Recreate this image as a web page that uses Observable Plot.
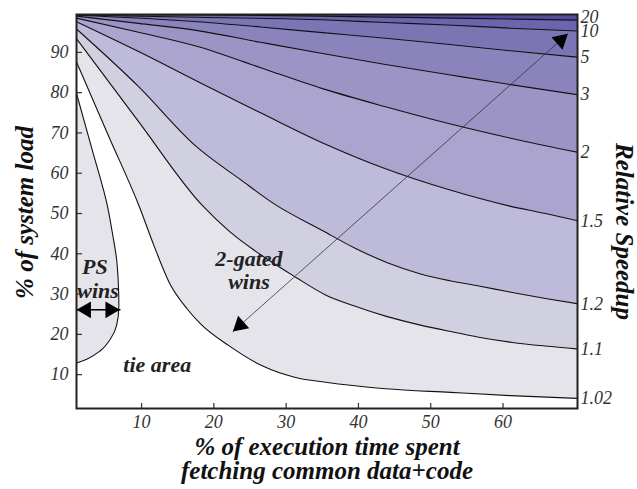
<!DOCTYPE html>
<html><head><meta charset="utf-8">
<script src="https://cdn.jsdelivr.net/npm/d3@7"></script>
<script src="https://cdn.jsdelivr.net/npm/@observablehq/plot@0.6"></script>
<style>
body{margin:0;background:#fff;}
#chart{width:637px;height:489px;}
</style></head><body><div id="chart"></div>
<script>
// ---- data ----
const levels = ["1.02","1.1","1.2","1.5","2","3","5","10","20"];
const bandColors = ["#e5e4eb","#d1d0e1","#bebad9","#aba4ce","#9b94c4","#8b84bc","#7c75b4","#6c65ad","#524ca2"];
const c1_02 = [[1,87.6],[5.57,68.7],[9.63,52.0],[11.7,42.1],[13.82,32.9],[16.32,26.3],[18.16,22.6],[22.07,17.2],[26.69,12.2],[31.3,9.3],[35.45,8.1],[43.75,6.5],[52.74,5.6],[61.04,4.8],[70.3,4.1]];
const c1_1 = [[1,93.4],[9.59,72.8],[18.4,52.0],[22.07,45.7],[26.69,39.5],[31.3,34.2],[35.45,29.8],[39.36,27.1],[43.98,24.4],[48.59,22.3],[52.74,20.7],[56.65,19.3],[61.27,18.0],[65.88,17.1],[70.3,16.4]];
const c1_2 = [[1,95.8],[9.59,81.5],[17.47,66.8],[23.69,58.4],[28.5,52.2],[35.0,45.8],[39.4,41.5],[44.0,37.8],[48.6,35.0],[52.7,33.3],[56.65,32.0],[61.27,30.4],[65.88,28.9],[70.3,27.6]];
const c1_5 = [[1,97.6],[9.59,90.2],[18.16,82.4],[26.46,75.0],[35.45,67.2],[43.75,61.1],[52.33,56.0],[60.8,51.9],[65.88,50.0],[70.3,48.2]];
const c2 = [[1,98.5],[9.59,95.0],[17.88,91.4],[26.46,86.2],[35.03,81.0],[43.75,76.5],[52.33,72.4],[61.04,68.7],[70.3,65.2]];
const c3 = [[1,99.0],[9.59,97.2],[17.75,95.4],[26.46,92.5],[35.03,89.7],[43.75,87.0],[52.33,84.5],[61.04,82.0],[70.3,79.5]];
const c5 = [[1,99.2],[17.75,97.6],[26.46,96.3],[35.03,94.9],[43.75,93.5],[52.33,92.0],[61.04,90.4],[70.3,88.8]];
const c10 = [[1,99.3],[17.75,98.7],[35.03,98.1],[43.75,97.4],[52.33,96.8],[61.04,96.0],[70.3,95.3]];
const c20 = [[1,99.37],[18.2,99.3],[35.03,99.0],[52.74,98.5],[70.3,98.0]];
const contours = [c1_02,c1_1,c1_2,c1_5,c2,c3,c5,c10,c20];
// PS-wins boundary (x as function of y)
const psCurve = [[1,12.9],[2.49,13.9],[4.33,16.0],[5.71,18.9],[6.54,22.2],[6.86,27.1],[6.78,32.9],[6.54,38.7],[5.95,45.3],[5.26,52.0],[3.2,65.6],[1,79.8]];
const xTicks = [10,20,30,40,50,60];
const yTicks = [10,20,30,40,50,60,70,80,90];
const annotations = [
  {text:"PS", x:3.53, y:36.7},
  {text:"wins", x:3.98, y:30.9},
  {text:"2-gated", x:24.85, y:38.6},
  {text:"wins", x:24.85, y:33.0},
  {text:"tie area", x:12.17, y:12.3}
];
const arrowDiag = [[22.63,20.7],[68.96,94.6]];
const arrowPS = [[1,26.1],[7.0,26.1]];
const xTitle = ["% of execution time spent","fetching common data+code"];
const yTitle = "% of system load";
const rTitle = "Relative Speedup";

// ---- layout ----
const W = 637, H = 489, mL = 76, mR = 60, mT = 14, mB = 81;
const xMin = 1, xMax = 70.3, yMin = 1.6, yMax = 99.4;
const plotW = W - mL - mR, plotH = H - mT - mB;
const kx = plotW / (xMax - xMin), ky = plotH / (yMax - yMin);

function head(tip, from) {
  const vx = (tip[0] - from[0]) * kx, vy = -(tip[1] - from[1]) * ky;
  const L = Math.hypot(vx, vy), ux = vx / L, uy = vy / L;
  const r = 6.2, d = 2 * Math.sqrt(Math.PI * r * r / (3 * Math.sqrt(3)));
  return Plot.dot([tip], {x: p => p[0], y: p => p[1], symbol: "triangle", r,
    fill: "#000", stroke: "none", rotate: Math.atan2(ux, -uy) * 180 / Math.PI,
    dx: -ux * d, dy: -uy * d});
}

const bold = {fontWeight: "bold", fontStyle: "italic", fill: "#111"};
const marks = [];
contours.forEach((c, i) => {
  marks.push(Plot.areaY(c, {x: p => p[0], y1: p => p[1], y2: () => yMax, fill: bandColors[i], curve: "monotone-x", clip: true}));
});
marks.push(Plot.areaX(psCurve, {y: p => p[1], x1: () => xMin, x2: p => p[0], fill: bandColors[0], curve: "monotone-y", clip: true}));
contours.forEach(c => {
  marks.push(Plot.line(c, {x: p => p[0], y: p => p[1], stroke: "#111", strokeWidth: 1.1, curve: "monotone-x", clip: true}));
});
marks.push(Plot.line(psCurve, {x: p => p[0], y: p => p[1], stroke: "#111", strokeWidth: 1.1, curve: "monotone-y", clip: true}));
// arrows
marks.push(Plot.line(arrowDiag, {x: p => p[0], y: p => p[1], stroke: "#333", strokeWidth: 0.8}));
marks.push(head(arrowDiag[0], arrowDiag[1]), head(arrowDiag[1], arrowDiag[0]));
marks.push(Plot.line(arrowPS, {x: p => p[0], y: p => p[1], stroke: "#000", strokeWidth: 1.6}));
marks.push(head(arrowPS[0], arrowPS[1]), head(arrowPS[1], arrowPS[0]));
// annotations
marks.push(Plot.text(annotations, {x: "x", y: "y", text: "text", fontSize: 22, ...bold, fill: "#222"}));
// ticks (inward) and axes
marks.push(Plot.tickX(xTicks, {x: d => d, insetTop: plotH - 5, stroke: "#333", strokeWidth: 1.2}));
marks.push(Plot.tickY(yTicks, {y: d => d, insetRight: plotW - 6, stroke: "#333", strokeWidth: 1.2}));
marks.push(Plot.axisX({ticks: xTicks, tickSize: 0, tickPadding: 7, label: null, fill: "#333"}));
marks.push(Plot.axisY({ticks: yTicks, tickSize: 0, tickPadding: 8, label: null, fill: "#333"}));
marks.push(Plot.frame({stroke: "#222", strokeWidth: 2}));
// right-hand speedup labels at contour ends
const endY = (d, i) => contours[i][contours[i].length - 1][1];
marks.push(Plot.text(levels.slice(0, 8), {x: () => xMax, y: endY, text: d => d,
  textAnchor: "start", dx: 3, fontSize: 18, fontStyle: "italic", fill: "#333"}));
marks.push(Plot.text(levels.slice(8), {x: () => xMax, y: (d, i) => endY(d, i + 8), text: d => d,
  textAnchor: "start", dx: 3, dy: -3, fontSize: 18, fontStyle: "italic", fill: "#333"}));
// titles
marks.push(Plot.text([xTitle[0]], {frameAnchor: "bottom", textAnchor: "middle", lineAnchor: "middle", dy: 38, text: d => d, fontSize: 25, ...bold}));
marks.push(Plot.text([xTitle[1]], {frameAnchor: "bottom", textAnchor: "middle", lineAnchor: "middle", dy: 62, text: d => d, fontSize: 25, ...bold}));
marks.push(Plot.text([yTitle], {frameAnchor: "left", textAnchor: "middle", lineAnchor: "middle", dx: -52, dy: 1, rotate: -90, text: d => d, fontSize: 25, ...bold}));
marks.push(Plot.text([rTitle], {frameAnchor: "right", textAnchor: "middle", lineAnchor: "middle", dx: 46, dy: 20, rotate: 90, text: d => d, fontSize: 25, ...bold}));

const chart = Plot.plot({
  width: W, height: H, marginLeft: mL, marginRight: mR, marginTop: mT, marginBottom: mB,
  x: {domain: [xMin, xMax]}, y: {domain: [yMin, yMax]},
  style: {fontFamily: "'Liberation Serif','Times New Roman',serif", fontSize: "18px", fontStyle: "italic", color: "#333", background: "#fff", overflow: "visible"},
  marks
});
document.getElementById("chart").appendChild(chart);
</script></body></html>
